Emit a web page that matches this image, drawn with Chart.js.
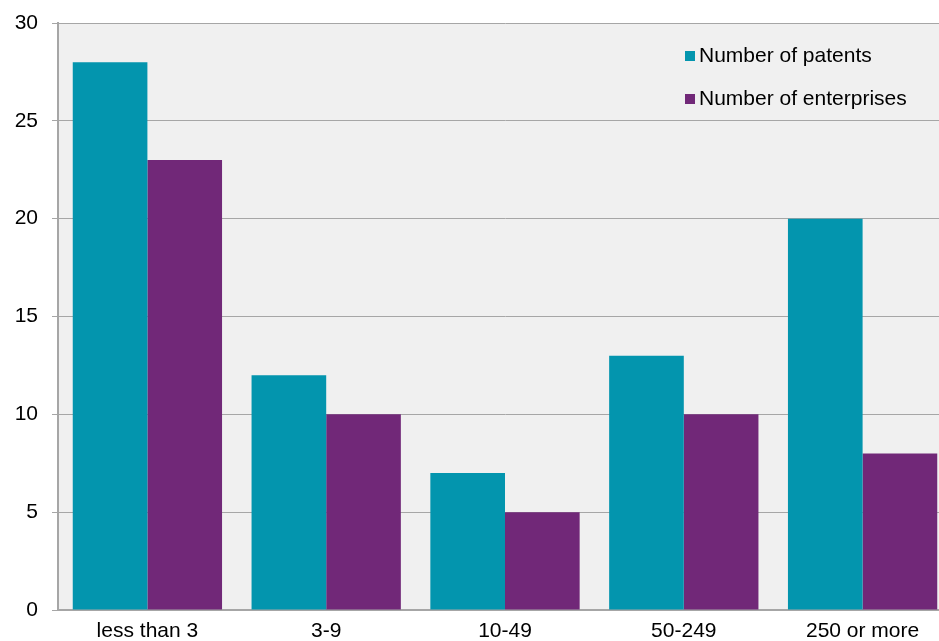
<!DOCTYPE html>
<html><head><meta charset="utf-8">
<script src="https://cdn.jsdelivr.net/npm/chart.js@4.4.0/dist/chart.umd.min.js"></script>
<style>
html,body{margin:0;padding:0;background:#fff;overflow:hidden;width:939px;height:641px}
#wrap{position:absolute;left:0;top:0;width:952px;height:641px}
</style></head><body>
<div id="wrap"><canvas id="c" width="952" height="641"></canvas></div>
<script>
const categories = ["less than 3", "3-9", "10-49", "50-249", "250 or more"];
const patents = [28, 12, 7, 13, 20];
const enterprises = [23, 10, 5, 10, 8];
const seriesNames = ["Number of patents", "Number of enterprises"];
const yTicks = [0, 5, 10, 15, 20, 25, 30];

const TEAL = "#0395AE", PURPLE = "#712878", GRID = "#A6A6A6";
const FONT = "'Liberation Sans', Arial, sans-serif";

const bgPlugin = {
  id: "bg",
  beforeDraw(chart) {
    const {ctx, chartArea: a} = chart;
    ctx.save(); ctx.fillStyle = "#F0F0F0";
    ctx.fillRect(a.left, a.top, a.right - a.left, a.bottom - a.top);
    ctx.restore();
  }
};
const legendPlugin = {
  id: "customLegend",
  afterDraw(chart) {
    const ctx = chart.ctx;
    ctx.save();
    ctx.font = "21px " + FONT;
    ctx.textBaseline = "middle";
    chart.data.datasets.forEach((ds, i) => {
      const y = 56 + i * 43;
      ctx.fillStyle = ds.backgroundColor;
      ctx.fillRect(685, y - 5, 10, 10);
      ctx.fillStyle = "#000";
      ctx.fillText(ds.label, 699, y);
    });
    ctx.restore();
  }
};

new Chart(document.getElementById("c"), {
  type: "bar",
  data: {
    labels: categories,
    datasets: [
      {label: seriesNames[0], data: patents, backgroundColor: TEAL},
      {label: seriesNames[1], data: enterprises, backgroundColor: PURPLE}
    ]
  },
  options: {
    responsive: false,
    animation: false,
    devicePixelRatio: 1,
    layout: {padding: {top: 23, right: 0, left: 0, bottom: 0}},
    datasets: {bar: {categoryPercentage: 0.835, barPercentage: 1.0}},
    plugins: {legend: {display: false}, tooltip: {enabled: false}},
    scales: {
      x: {
        grid: {display: false, drawTicks: false},
        border: {display: true, color: GRID, width: 2},
        ticks: {color: "#000", font: {size: 21, family: FONT}, padding: 9, maxRotation: 0, autoSkip: false},
        afterFit(s) { s.height = 31; s.paddingLeft = 0; s.paddingRight = 0; }
      },
      y: {
        min: 0, max: 30,
        afterBuildTicks(s) { s.ticks = yTicks.map(v => ({value: v})); },
        grid: {color: GRID, lineWidth: 1, tickLength: 6, drawTicks: true},
        border: {display: true, color: GRID, width: 2},
        ticks: {color: "#000", font: {size: 21, family: FONT}, padding: 14},
        afterFit(s) { s.width = 58; s.paddingTop = 0; s.paddingBottom = 0; }
      }
    }
  },
  plugins: [bgPlugin, legendPlugin]
});
</script>
</body></html>
